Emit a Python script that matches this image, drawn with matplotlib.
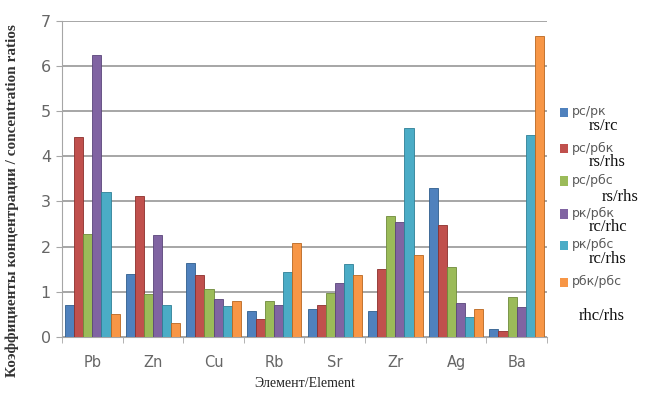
import numpy as np
import matplotlib.pyplot as plt
from matplotlib.patches import Rectangle

# Element groups and concentration ratios per series
elements = ["Pb", "Zn", "Cu", "Rb", "Sr", "Zr", "Ag", "Ba"]
rs_rc = [0.72, 1.40, 1.63, 0.58, 0.62, 0.58, 3.30, 0.17]
rs_rhs_k = [4.42, 3.12, 1.37, 0.40, 0.72, 1.50, 2.47, 0.13]
rs_rhs_c = [2.28, 0.95, 1.07, 0.80, 0.97, 2.68, 1.55, 0.88]
rc_rhc = [6.25, 2.25, 0.85, 0.72, 1.20, 2.55, 0.75, 0.67]
rc_rhs = [3.20, 0.70, 0.68, 1.45, 1.62, 4.63, 0.45, 4.48]
rhc_rhs = [0.52, 0.32, 0.80, 2.07, 1.37, 1.82, 0.63, 6.67]

series = [rs_rc, rs_rhs_k, rs_rhs_c, rc_rhc, rc_rhs, rhc_rhs]
labels_ru = ["рс/рк", "рс/рбк", "рс/рбс", "рк/рбк", "рк/рбс", "рбк/рбс"]
labels_en = ["rs/rc", "rs/rhs", "rs/rhs", "rc/rhc", "rc/rhs", "rhc/rhs"]
colors = ["#4F81BD", "#C0504D", "#9BBB59", "#8064A2", "#4BACC6", "#F79646"]
edges = ["#2F5E8E", "#8C2F2C", "#6E8A3A", "#5A457A", "#2E7F96", "#B9661F"]

fig = plt.figure(figsize=(6.67, 3.97), dpi=100)
ax = fig.add_axes([0.093, 0.151, 0.727, 0.797])

x = np.arange(len(elements))
n = len(series)
width = 0.9 / n
for i, vals in enumerate(series):
    ax.bar(x - 0.45 + width * (i + 0.5), vals, width, color=colors[i],
           edgecolor=edges[i], linewidth=0.6, zorder=3)

ax.set_xlim(-0.5, len(elements) - 0.5)
ax.set_ylim(0, 7)
ax.set_yticks(range(8))
ax.set_xticks(x)
ax.set_xticklabels(elements)
ax.grid(axis="y", color="#A6A6A6", linewidth=1.4, zorder=0)
ax.set_xticks(np.arange(len(elements) + 1) - 0.5, minor=True)
ax.tick_params(axis="x", which="major", length=0, pad=13, labelsize=10.5,
               labelcolor="#666666")
ax.tick_params(axis="x", which="minor", length=4, color="#A6A6A6")
ax.tick_params(axis="y", length=4, color="#A6A6A6", labelsize=11.5,
               labelcolor="#666666", pad=4)
for s in ["top", "right"]:
    ax.spines[s].set_visible(False)
ax.spines["left"].set_color("#A6A6A6")
ax.spines["bottom"].set_color("#A6A6A6")

ax.set_ylabel("Коэффициенты концентрации / concentration ratios",
              family="Liberation Serif", fontsize=11, fontweight="bold",
              color="#333333")
ax.yaxis.set_label_coords(-0.088, 0.43)
ax.set_xlabel("Элемент/Element", family="Liberation Serif", fontsize=10,
              color="#222222", labelpad=5)

# legend built by hand: coloured square, sans label, serif label beneath
ru_y = [0.718, 0.627, 0.545, 0.462, 0.383, 0.290]
en_y = [0.682, 0.592, 0.505, 0.428, 0.347, 0.205]
en_x = [0.882, 0.882, 0.902, 0.882, 0.882, 0.868]
for i in range(n):
    fig.patches.append(Rectangle((0.839, ru_y[i] - 0.013), 0.013, 0.024,
                                 transform=fig.transFigure,
                                 facecolor=colors[i], edgecolor="none"))
    fig.text(0.857, ru_y[i], labels_ru[i], fontsize=9, color="#595959",
             va="center", ha="left")
    fig.text(en_x[i], en_y[i], labels_en[i], family="Liberation Serif",
             fontsize=12, color="#111111", va="center", ha="left")

fig.savefig("out.png", dpi=100)
